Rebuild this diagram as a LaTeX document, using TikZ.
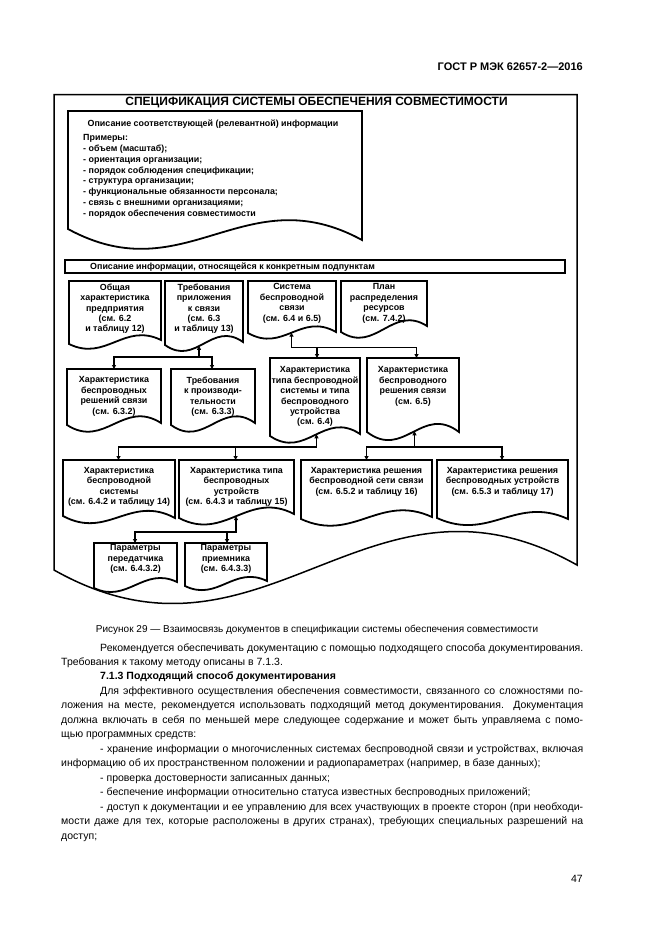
\documentclass[tikz,border=0pt]{standalone}
\usepackage{fontspec}
\setmainfont{Liberation Sans}
\usetikzlibrary{arrows.meta,calc}
% document shape: #1 name, #2 L, #3 T, #4 R, #5 bottom-left y, #6 bottom-right y, #7 wave k, #8 style
\newcommand{\docbox}[8]{%
  \draw[#8] (#2,#5) -- (#2,#3) -- (#4,#3) -- (#4,#6)
    .. controls ({#2+0.6*(#4-#2)},{#6-#7}) and ({#2+0.4*(#4-#2)},{#5+#7}) .. (#2,#5) -- cycle;
  \expandafter\def\csname dbp#1\endcsname{{#2}{#4}{#5}{#6}{#7}}%
}
\newcommand{\wavehelp}[7]{%
  \pgfmathsetmacro\wvT{(#6-#1)/(#2-#1)}%
  \pgfmathsetmacro\wvY{(1-\wvT)^3*#3+3*(1-\wvT)^2*\wvT*(#3+#5)+3*(1-\wvT)*\wvT^2*(#4-#5)+\wvT^3*#4}%
  \coordinate (#7) at (#6,\wvY);}
\newcommand{\wavept}[3]{\expandafter\expandafter\expandafter\wavehelp\csname dbp#1\endcsname{#2}{#3}}
\tikzset{
  docline/.style={line width=1.8pt, line join=miter},
  frameline/.style={line width=1.5pt, line join=miter},
  conn/.style={line width=1.3pt},
  boxtxt/.style={font=\bfseries\fontsize{8.9}{10.4}\selectfont, align=center, inner sep=0pt, anchor=north},
  body/.style={font=\fontsize{10.5}{14.5}\selectfont, inner sep=0pt, anchor=base west},
}
\begin{document}
\begin{tikzpicture}[x=1pt,y=-1pt,>={Triangle[length=4pt,width=4pt]}]
\useasboundingbox (0,0) rectangle (661,935);
\fill[white] (0,0) rectangle (661,935);

% header
\node[anchor=base east, inner sep=0pt, font=\bfseries\fontsize{11}{13}\selectfont] (hdr) at (583,70.7) {ГОСТ Р МЭК 62657-2—2016};

% outer frame
\docbox{OUT}{54}{94.7}{577}{570}{565}{118}{frameline}
\node[anchor=base, inner sep=0pt, font=\bfseries\fontsize{12}{14}\selectfont] (title) at (316.5,105.8) {СПЕЦИФИКАЦИЯ СИСТЕМЫ ОБЕСПЕЧЕНИЯ СОВМЕСТИМОСТИ};

% top document
\docbox{TOP}{68}{111}{362}{229}{240}{64}{docline}
\node[anchor=base, inner sep=0pt, font=\bfseries\fontsize{8.9}{10.8}\selectfont] (toph) at (213,126) {Описание соответствующей (релевантной) информации};
\node[anchor=north west, inner sep=0pt, align=left, font=\bfseries\fontsize{8.9}{10.8}\selectfont] (topl) at (83,134.3) {Примеры:\\- объем (масштаб);\\- ориентация организации;\\- порядок соблюдения спецификации;\\- структура организации;\\- функциональные обязанности персонала;\\- связь с внешними организациями;\\- порядок обеспечения совместимости};

% band
\draw[docline] (65,260) rectangle (565,273.3);
\node[anchor=base west, inner sep=0pt, font=\bfseries\fontsize{8.9}{10.8}\selectfont] (band) at (90,269.6) {Описание информации, относящейся к конкретным подпунктам};

% row 1
\docbox{A}{69}{281}{161}{344}{340}{18}{docline}
\docbox{B}{165}{281}{243}{345}{342}{22}{docline}
\docbox{G}{248}{281}{336}{333}{332}{20}{docline}
\docbox{H}{341}{281}{427}{332}{326}{22}{docline}
\node[boxtxt] (At) at (115,283.5) {Общая\\характеристика\\предприятия\\(см. 6.2\\и таблицу 12)};
\node[boxtxt] (Bt) at (204,283.5) {Требования\\приложения\\к связи\\(см. 6.3\\и таблицу 13)};
\node[boxtxt] (Gt) at (292,283.5) {Система\\беспроводной\\связи\\(см. 6.4 и 6.5)};
\node[boxtxt] (Ht) at (384,283.5) {План\\распределения\\ресурсов\\(см. 7.4.2)};

% row 2
\docbox{C}{67}{369}{161}{425}{423}{24}{docline}
\docbox{D}{171}{369}{255}{425}{423}{24}{docline}
\docbox{E}{270}{358}{360}{436}{434}{24}{docline}
\docbox{F}{367}{358}{459}{432}{432}{28}{docline}
\node[boxtxt] (Ct) at (114,376.5) {Характеристика\\беспроводных\\решений связи\\(см. 6.3.2)};
\node[boxtxt] (Dt) at (213,376.5) {Требования\\к производи-\\тельности\\(см. 6.3.3)};
\node[boxtxt] (Et) at (315,366.5) {Характеристика\\типа беспроводной\\системы и типа\\беспроводного\\устройства\\(см. 6.4)};
\node[boxtxt] (Ft) at (413,366.5) {Характеристика\\беспроводного\\решения связи\\(см. 6.5)};

% row 3
\docbox{I}{63}{460}{175}{516}{518}{24}{docline}
\docbox{J}{179}{460}{294}{518}{514}{24}{docline}
\docbox{K}{301}{460}{432}{519}{517}{24}{docline}
\docbox{L}{437}{460}{568}{518}{519}{24}{docline}
\node[boxtxt] (It) at (119,467) {Характеристика\\беспроводной\\системы\\(см. 6.4.2 и таблицу 14)};
\node[boxtxt] (Jt) at (236.5,467) {Характеристика типа\\беспроводных\\устройств\\(см. 6.4.3 и таблицу 15)};
\node[boxtxt] (Kt) at (366.5,467) {Характеристика решения\\беспроводной сети связи\\(см. 6.5.2 и таблицу 16)};
\node[boxtxt] (Lt) at (502.5,467) {Характеристика решения\\беспроводных устройств\\(см. 6.5.3 и таблицу 17)};

% row 4
\docbox{M}{94}{543}{177}{588}{582}{16}{docline}
\docbox{N}{185}{543}{267}{586}{581}{16}{docline}
\node[boxtxt] (Mt) at (135.5,544.5) {Параметры\\передатчика\\(см. 6.4.3.2)};
\node[boxtxt] (Nt) at (226,544.5) {Параметры\\приемника\\(см. 6.4.3.3)};

% connector points
\wavept{B}{199}{Bb}
\wavept{G}{291.5}{Gb}
\wavept{E}{316.5}{Eb}
\wavept{F}{414.5}{Fb}
\wavept{J}{236}{Jb}
\coordinate (Bbus) at (199,357);
\coordinate (Gbus) at (291.5,347.5);
\coordinate (Ebus) at (316.5,447);
\coordinate (Fbus) at (414.5,447);
\coordinate (Jbus) at (236,532);
\coordinate (Ctop) at (114,369);
\coordinate (Dtop) at (212,369);
\coordinate (Etop) at (317,358);
\coordinate (Ftop) at (416.5,358);
\coordinate (Itop) at (118.5,460);
\coordinate (Jtop) at (235.6,460);
\coordinate (Ktop) at (366.5,460);
\coordinate (Ltop) at (502,460);
\coordinate (Mtop) at (135,543);
\coordinate (Ntop) at (227,543);

\draw[conn,<->] (Bb) -- (Bbus) -| (Ctop);
\draw[conn,->] (Bbus) -| (Dtop);
\draw[conn,<->] (Gb) -- (Gbus) -| (Ftop);
\draw[conn,->] (Gbus) -| (Etop);
\draw[conn,<->] (Eb) -- (Ebus) -| (Itop);
\draw[conn,->] (Ebus) -| (Jtop);
\draw[conn,<->] (Fb) -- (Fbus) -| (Ktop);
\draw[conn,->] (Fbus) -| (Ltop);
\draw[conn,<->] (Jb) -- (Jbus) -| (Mtop);
\draw[conn,->] (Jbus) -| (Ntop);

% caption
\node[anchor=base, inner sep=0pt, font=\fontsize{10}{12}\selectfont] (cap) at (317,632.6) {Рисунок 29 — Взаимосвязь документов в спецификации системы обеспечения совместимости};

% body text
\node[body] (l1) at (100,651.0) {\makebox[483pt][s]{Рекомендуется обеспечивать документацию с помощью подходящего способа документирования.}};
\node[body] (l2) at (61,665.5) {Требования к такому методу описаны в 7.1.3.};
\node[body,font=\bfseries\fontsize{10.5}{14.5}\selectfont] (l3) at (100,679.9) {7.1.3 Подходящий способ документирования};
\node[body] (l4) at (100,694.4) {\makebox[483pt][s]{Для эффективного осуществления обеспечения совместимости, связанного со сложностями по-}};
\node[body] (l5) at (61,708.8) {\makebox[522pt][s]{ложения на месте, рекомендуется использовать подходящий метод документирования. Документация}};
\node[body] (l6) at (61,723.3) {\makebox[522pt][s]{должна включать в себя по меньшей мере следующее содержание и может быть управляема с помо-}};
\node[body] (l7) at (61,737.8) {щью программных средств:};
\node[body] (l8) at (100,752.2) {\makebox[483pt][s]{- хранение информации о многочисленных системах беспроводной связи и устройствах, включая}};
\node[body] (l9) at (61,766.7) {информацию об их пространственном положении и радиопараметрах (например, в базе данных);};
\node[body] (l10) at (100,781.1) {- проверка достоверности записанных данных;};
\node[body] (l11) at (100,795.6) {- беспечение информации относительно статуса известных беспроводных приложений;};
\node[body] (l12) at (100,810.1) {\makebox[483pt][s]{- доступ к документации и ее управлению для всех участвующих в проекте сторон (при необходи-}};
\node[body] (l13) at (61,824.5) {\makebox[522pt][s]{мости даже для тех, которые расположены в других странах), требующих специальных разрешений на}};
\node[body] (l14) at (61,839.0) {доступ;};

% page number
\node[anchor=base east, inner sep=0pt, font=\fontsize{10.5}{12}\selectfont] (pg) at (583,882.8) {47};
\end{tikzpicture}
\end{document}
